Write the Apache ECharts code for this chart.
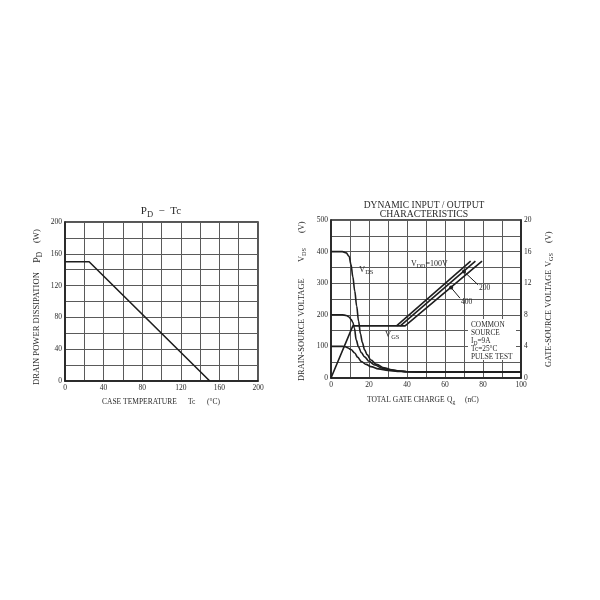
<!DOCTYPE html>
<html><head><meta charset="utf-8">
<script src="https://cdn.jsdelivr.net/npm/echarts@6/dist/echarts.min.js"></script>
<style>html,body{margin:0;padding:0;background:#fff}#c{width:600px;height:600px}</style>
</head><body><div id="c"></div>
<script>
// ---------- Left chart: PD - Tc ----------
const pdTemp = [0, 25, 150];
const pdPower = [150, 150, 0];
const pdXTicks = [0, 40, 80, 120, 160, 200];
const pdYTicks = [0, 40, 80, 120, 160, 200];

// ---------- Right chart: dynamic input/output ----------
const qgTicks = [0, 20, 40, 60, 80, 100];
const vdsTicks = [0, 100, 200, 300, 400, 500];
const vgsTicks = [0, 4, 8, 12, 16, 20];

const qg400 = [0, 6, 8, 9.5, 10.5, 11.5, 12.5, 13.5, 14.5, 15.5, 16.5, 17.7, 19, 21, 24, 28, 32, 36, 40, 50, 100];
const vds400 = [400, 400, 396, 385, 360, 320, 275, 228, 180, 140, 112, 89, 74, 57, 43, 32, 26, 22, 20, 19, 19];

const qg200 = [0, 6, 8, 9.5, 10.5, 11.5, 12.3, 13.3, 14.5, 16, 17.7, 20, 23, 27, 32, 36, 40, 50, 100];
const vds200 = [200, 200, 198, 193, 186, 176, 158, 120, 98, 80, 67, 53, 41, 31, 25, 22, 20, 19, 19];

const qg100 = [0, 6, 7.5, 9, 10.5, 12.5, 14, 16, 18.5, 21, 25, 30, 35, 40, 50, 100];
const vds100 = [100, 100, 99, 95, 90, 79, 66, 52, 43, 36, 29, 24, 21, 20, 19, 19];

// gate-source voltage (right axis); rise, plateau, then per-VDD ramps
const qgGate = [0, 11.5, 39, 79.5];
const vgsGate400 = [0, 6.6, 6.6, 14.8];
const qgRamp200 = [36.5, 76];
const vgsRamp200 = [6.6, 14.8];
const qgRamp100 = [34.5, 73.5];
const vgsRamp100 = [6.6, 14.8];

// leader lines for the "200" / "400" labels (right axis units)
const lead200Q = [70, 77.4];
const lead200V = [13.47, 11.8];
const lead400Q = [63.2, 67.9];
const lead400V = [11.44, 10.1];

const zip = (a, b) => a.map((v, i) => [v, b[i]]);
const FONT = '"Liberation Serif","DejaVu Serif",serif';
const INK = '#1e1e1e';
const TXT = '#2a2a2a';
const GRIDC = '#5a5a5a';

const tickFmt = ticks => v => (ticks.indexOf(v) >= 0 ? String(v) : '');

function valAxis(o) {
  return Object.assign({
    type: 'value',
    axisLine: {show: true, lineStyle: {color: INK, width: 1.5}},
    axisTick: {show: false},
    splitLine: {show: true, lineStyle: {color: GRIDC, width: 1}}
  }, o);
}
const lbl = ticks => ({fontFamily: FONT, fontSize: 7.5, color: TXT, margin: 3, formatter: tickFmt(ticks)});

// text with optional subscripts: parts = [[text, fontSize, dy], ...]
const mctx = document.createElement('canvas').getContext('2d');
function tw(t, fs) { mctx.font = fs + 'px "Liberation Serif"'; return mctx.measureText(t).width; }
function label(x, y, parts, opt) {
  opt = opt || {};
  const widths = parts.map(p => tw(p[0], p[1]));
  const total = widths.reduce((a, b) => a + b, 0);
  let cx = opt.align === 'center' ? -total / 2 : 0;
  const children = parts.map((p, i) => {
    const el = {type: 'text', x: cx, y: p[2] || 0, z: 10,
      style: {text: p[0], fontFamily: FONT, fontSize: p[1], fill: TXT,
        align: 'left', textAlign: 'left', verticalAlign: 'middle', textVerticalAlign: 'middle'}};
    cx += widths[i];
    return el;
  });
  return {type: 'group', x: x, y: y, z: 10, rotation: opt.rot ? Math.PI / 2 : 0, children: children};
}
const plain = (x, y, t, fs, opt) => label(x, y, [[t, fs, 0]], opt);
const sub = (x, y, a, s, fs, rest, opt) => {
  const parts = [[a, fs, 0], [s, fs * 0.75, fs * 0.33]];
  if (rest) parts.push([rest, fs, 0]);
  return label(x, y, parts, opt);
};

const lineBase = {type: 'line', symbol: 'none', silent: true, animation: false,
  lineStyle: {color: INK, width: 1.6}};
const leader = {symbol: (v, p) => (p.dataIndex === 0 ? 'circle' : 'none'), symbolSize: 4, showSymbol: true,
  itemStyle: {color: INK}, lineStyle: {color: INK, width: 1}};

const option = {
  animation: false,
  backgroundColor: '#fff',
  grid: [
    {left: 65, top: 222, width: 193, height: 159, show: true, borderColor: INK, borderWidth: 1.5, backgroundColor: 'transparent'},
    {left: 331, top: 220, width: 190, height: 158, show: true, borderColor: INK, borderWidth: 1.5, backgroundColor: 'transparent'}
  ],
  xAxis: [
    valAxis({gridIndex: 0, min: 0, max: 200, interval: 20, axisLabel: lbl(pdXTicks)}),
    valAxis({gridIndex: 1, min: 0, max: 100, interval: 10, axisLabel: lbl(qgTicks)})
  ],
  yAxis: [
    valAxis({gridIndex: 0, min: 0, max: 200, interval: 20, axisLabel: lbl(pdYTicks)}),
    valAxis({gridIndex: 1, min: 0, max: 500, interval: 50, axisLabel: lbl(vdsTicks)}),
    valAxis({gridIndex: 1, min: 0, max: 20, interval: 2, position: 'right', splitLine: {show: false}, axisLabel: lbl(vgsTicks)})
  ],
  series: [
    Object.assign({}, lineBase, {xAxisIndex: 0, yAxisIndex: 0, data: zip(pdTemp, pdPower)}),
    Object.assign({}, lineBase, {xAxisIndex: 1, yAxisIndex: 1, smooth: 0.35, smoothMonotone: 'x', data: zip(qg400, vds400)}),
    Object.assign({}, lineBase, {xAxisIndex: 1, yAxisIndex: 1, smooth: 0.35, smoothMonotone: 'x', data: zip(qg200, vds200)}),
    Object.assign({}, lineBase, {xAxisIndex: 1, yAxisIndex: 1, smooth: 0.35, smoothMonotone: 'x', data: zip(qg100, vds100)}),
    Object.assign({}, lineBase, {xAxisIndex: 1, yAxisIndex: 2, data: zip(qgGate, vgsGate400)}),
    Object.assign({}, lineBase, {xAxisIndex: 1, yAxisIndex: 2, data: zip(qgRamp200, vgsRamp200)}),
    Object.assign({}, lineBase, {xAxisIndex: 1, yAxisIndex: 2, data: zip(qgRamp100, vgsRamp100)}),
    Object.assign({}, lineBase, leader, {xAxisIndex: 1, yAxisIndex: 2, data: zip(lead200Q, lead200V)}),
    Object.assign({}, lineBase, leader, {xAxisIndex: 1, yAxisIndex: 2, data: zip(lead400Q, lead400V)})
  ],
  graphic: [
    // titles
    label(161, 211, [['P', 11, 0], ['D', 8.5, 3.5], ['  −  Tc', 11, 0]], {align: 'center'}),
    plain(424, 205, 'DYNAMIC INPUT / OUTPUT', 9.5, {align: 'center'}),
    plain(424, 214.5, 'CHARACTERISTICS', 9.7, {align: 'center'}),
    // left chart axis names
    plain(102, 402, 'CASE TEMPERATURE', 7.5),
    plain(188, 402, 'Tc', 7.5),
    plain(207, 402, '(°C)', 7.5),
    plain(37, 385, 'DRAIN POWER DISSIPATION', 8.6, {rot: true}),
    label(37, 263, [['P', 10.5, 0], ['D', 7.5, 3]], {rot: true}),
    plain(37, 243, '(W)', 8.6, {rot: true}),
    // right chart axis names
    plain(367, 400, 'TOTAL GATE CHARGE', 7.5),
    sub(447, 400, 'Q', 'g', 7.5),
    plain(465, 400, '(nC)', 7.5),
    plain(302, 381, 'DRAIN-SOURCE VOLTAGE', 8.4, {rot: true}),
    sub(302, 262, 'V', 'DS', 8.4, null, {rot: true}),
    plain(302, 233, '(V)', 8.4, {rot: true}),
    plain(549, 367, 'GATE-SOURCE VOLTAGE', 8.4, {rot: true}),
    sub(549, 267, 'V', 'GS', 8.4, null, {rot: true}),
    plain(549, 243, '(V)', 8.4, {rot: true}),
    // in-plot annotations
    sub(359, 270, 'V', 'DS', 8.5),
    sub(385, 335, 'V', 'GS', 8.5),
    sub(411, 264, 'V', 'DD', 8, '=100V'),
    plain(479, 288, '200', 7.5),
    plain(461, 302, '400', 7.5),
    {type: 'rect', shape: {x: 468, y: 319, width: 48, height: 41}, style: {fill: '#fff'}, z: 5},
    plain(471, 325, 'COMMON', 7.3),
    plain(471, 333.5, 'SOURCE', 7.3),
    sub(471, 341, 'I', 'D', 7.3, '=9A'),
    plain(471, 349.5, 'Tc=25°C', 7.3),
    plain(471, 357, 'PULSE TEST', 7.3)
  ]
};
const chart = echarts.init(document.getElementById('c'), null, {renderer: 'canvas'});
chart.setOption(option);
</script></body></html>
